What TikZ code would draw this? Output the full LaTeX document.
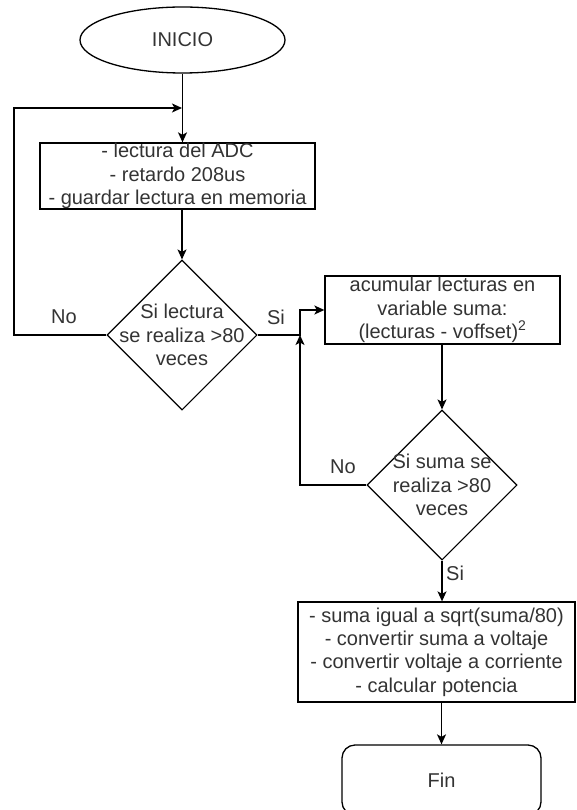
\documentclass[tikz,border=0pt]{standalone}
\usepackage{fontspec}
\setmainfont{Liberation Sans}
\usetikzlibrary{shapes.geometric,arrows.meta}
\definecolor{txt}{HTML}{333333}
\begin{document}
\begin{tikzpicture}[x=1pt,y=-1pt,
  every node/.style={font=\fontsize{20}{23.3}\selectfont,text=txt},
  box/.style={draw,line width=1.3pt,rectangle,inner sep=0pt,align=center},
  term/.style={draw,line width=1.3pt,ellipse,inner sep=0pt},
  endbox/.style={draw,line width=1.3pt,rectangle,rounded corners=13pt,inner sep=0pt},
  decision/.style={draw,line width=1.1pt,diamond,inner sep=0pt,minimum width=150pt,minimum height=150pt},
  inlbl/.style={align=center,font=\fontsize{20}{23.3}\selectfont,text=txt},
  lbl/.style={inner sep=0pt},
  conn/.style={line width=1.3pt,-{Stealth[length=10pt,width=9pt,inset=2.5pt]}},
  plain/.style={line width=1.3pt}]
\useasboundingbox (0,0) rectangle (576,810);

\node[term,minimum width=205pt,minimum height=66pt] (inicio) at (182.5,40) {INICIO};
\node[box,minimum width=275pt,minimum height=66pt] (box1) at (177.5,176)
  {- lectura del ADC\\- retardo 208us\\- guardar lectura en memoria};
\node[decision,label={[inlbl]center:Si lectura\\se realiza >80\\veces}] (d1) at (182,335) {};
\node[box,minimum width=235pt,minimum height=68pt] (box2) at (442.5,310)
  {acumular lecturas en\\variable suma:\\(lecturas - voffset)\textsuperscript{2}};
\node[decision,label={[inlbl]center:Si suma se\\realiza >80\\veces}] (d2) at (442,485) {};
\node[box,minimum width=277pt,minimum height=100pt] (box3) at (436.5,652)
  {- suma igual a sqrt(suma/80)\\- convertir suma a voltaje\\- convertir voltaje a corriente\\- calcular potencia};
\node[endbox,minimum width=199pt,minimum height=70pt] (fin) at (441.5,780) {Fin};

\coordinate (j1) at (182,108);
\coordinate (j2) at (300,335);

\draw[conn] (inicio.south) -- (inicio.south |- box1.north);
\draw[conn] (d1.west) -- (14,335) |- (j1);
\draw[conn] (box1.south -| d1.north) -- (d1.north);
\draw[conn] (d1.east) -- (j2) |- (box2.west);
\draw[conn] (box2.south -| d2.north) -- (d2.north);
\draw[conn] (d2.west) -| (j2);
\draw[conn] (d2.south) -- (d2.south |- box3.north);
\draw[conn] (box3.south -| fin.north) -- (fin.north);

\node[lbl] (no1) at (64,317) {No};
\node[lbl] (si1) at (276,317) {Si};
\node[lbl] (no2) at (343,467) {No};
\node[lbl,anchor=west] (si2) at (446,573) {Si};
\end{tikzpicture}
\end{document}
